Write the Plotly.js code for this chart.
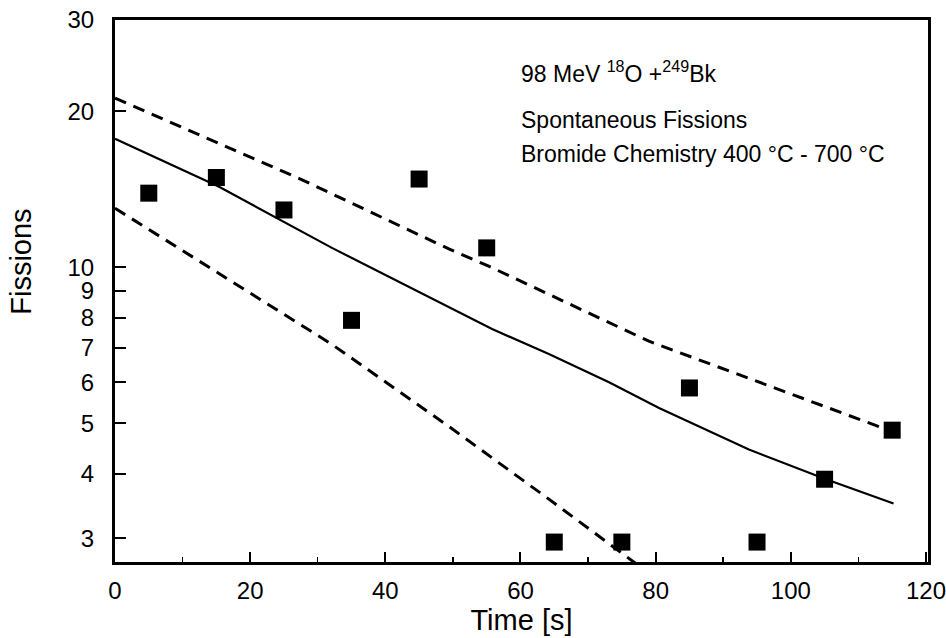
<!DOCTYPE html>
<html>
<head>
<meta charset="utf-8">
<script src="https://cdn.plot.ly/plotly-3.0.1.min.js"></script>
<style>html,body{margin:0;padding:0;background:#fff;}#chart{width:946px;height:638px;}</style>
</head>
<body>
<div id="chart"></div>
<script>
// Measured data (bin centers in s, fission counts)
const timeBins = [5, 15, 25, 35, 45, 55, 65, 75, 85, 95, 105, 115];
const fissionCounts = [13.9, 14.9, 12.9, 7.9, 14.8, 10.9, 2.95, 2.95, 5.85, 2.95, 3.9, 4.85];

// Fit curve (solid)
const fitTime = [0, 15.4, 32.1, 46.9, 55.8, 64.2, 73.1, 80.5, 93.8, 105.2, 115.2];
const fitValue = [17.7, 14.3, 10.9, 8.7, 7.6, 6.8, 6.0, 5.35, 4.45, 3.9, 3.5];

// Upper confidence band (dashed)
const upperTime = [0, 27.2, 49.4, 55.3, 79, 115];
const upperValue = [21.2, 14.85, 10.85, 10.05, 7.2, 4.82];

// Lower confidence band (dashed)
const lowerTime = [0, 32.1, 49.4, 64.2, 77.1, 80];
const lowerValue = [13.0, 7.1, 4.93, 3.57, 2.68, 2.5];

const yTicks = [3, 4, 5, 6, 7, 8, 9, 10, 20, 30];
const xTicks = [0, 20, 40, 60, 80, 100, 120];

const FONT = 'Liberation Sans, Arial, Helvetica, sans-serif';

const traces = [
  {x: upperTime, y: upperValue, mode: 'lines', line: {color: '#000', width: 3, dash: '12px,8px'}, showlegend: false, hoverinfo: 'skip'},
  {x: lowerTime, y: lowerValue, mode: 'lines', line: {color: '#000', width: 3, dash: '12px,8px'}, showlegend: false, hoverinfo: 'skip'},
  {x: fitTime, y: fitValue, mode: 'lines', line: {color: '#000', width: 2.2}, showlegend: false},
  {x: timeBins, y: fissionCounts, mode: 'markers', marker: {symbol: 'square', size: 17, color: '#000'}, showlegend: false, cliponaxis: false}
];

const layout = {
  width: 946, height: 638,
  margin: {l: 115, r: 18, t: 20, b: 76},
  paper_bgcolor: '#fff', plot_bgcolor: '#fff',
  font: {family: FONT, color: '#000', size: 24},
  showlegend: false,
  xaxis: {
    range: [0, 120.3], tickvals: xTicks, ticktext: xTicks.map(String),
    ticks: 'inside', ticklen: 10, tickwidth: 2, tickcolor: '#000',
    minor: {dtick: 10, tick0: 0, ticks: 'inside', ticklen: 5, tickwidth: 1.5, tickcolor: '#000'},
    showline: true, linewidth: 3, linecolor: '#000', mirror: true,
    showgrid: false, zeroline: false,
    tickfont: {size: 24}, ticklabelstandoff: 5, ticklabeloverflow: 'allow',
    title: {text: 'Time [s]', font: {size: 29}, standoff: 4}
  },
  yaxis: {
    type: 'log', range: [Math.log10(2.7), Math.log10(30)],
    tickvals: yTicks, ticktext: yTicks.map(String),
    ticks: 'inside', ticklen: 11, tickwidth: 2, tickcolor: '#000',
    showline: true, linewidth: 3, linecolor: '#000', mirror: true,
    showgrid: false, zeroline: false,
    tickfont: {size: 24}, ticklabelstandoff: 13,
    title: {text: ''}
  },
  annotations: [
    {xref: 'paper', yref: 'paper', x: -0.115, y: 0.553, xanchor: 'center', yanchor: 'middle', showarrow: false,
     textangle: -90, text: 'Fissions', font: {size: 29}},
    {xref: 'paper', yref: 'paper', x: 0.497, y: 0.904, xanchor: 'left', yanchor: 'middle', showarrow: false,
     text: '98 MeV <sup>18</sup>O +<sup>249</sup>Bk', font: {size: 23}},
    {xref: 'paper', yref: 'paper', x: 0.497, y: 0.8155, xanchor: 'left', yanchor: 'middle', showarrow: false,
     text: 'Spontaneous Fissions', font: {size: 23}},
    {xref: 'paper', yref: 'paper', x: 0.497, y: 0.753, xanchor: 'left', yanchor: 'middle', showarrow: false,
     text: 'Bromide Chemistry 400 °C - 700 °C', font: {size: 23}}
  ]
};

Plotly.newPlot('chart', traces, layout, {displayModeBar: false, staticPlot: true});
</script>
</body>
</html>
